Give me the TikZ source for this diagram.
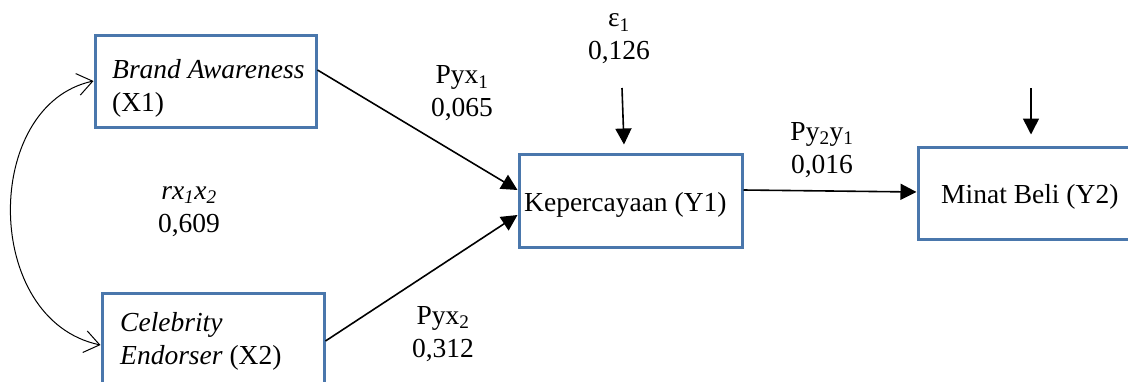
\documentclass[tikz,border=0pt]{standalone}
\usepackage{fontspec}
\setmainfont{Liberation Serif}
\usetikzlibrary{arrows.meta,calc}
\definecolor{boxblue}{HTML}{4A77AC}
\begin{document}
\begin{tikzpicture}[x=1pt,y=-1pt,
  box/.style={draw=boxblue,line width=3pt,inner sep=0pt},
  txt/.style={font=\fontsize{27.5}{33}\selectfont,inner sep=0pt},
  lab/.style={txt,align=center},
  conn/.style={line width=1.6pt,-{Triangle[length=16pt,width=16pt]}},
  corr/.style={line width=1pt,{Straight Barb[length=15pt,width=22pt]}-{Straight Barb[length=15pt,width=22pt]}}]
\clip (0,0) rectangle (1128,381);
% boxes
\node[box,minimum width=221pt,minimum height=92pt] (X1) at (205.5,81) {};
\node[box,minimum width=222pt,minimum height=130pt] (X2) at (213,358) {};
\node[box,minimum width=223pt,minimum height=93pt] (Y1) at (630.5,200.5) {};
\node[box,minimum width=232pt,minimum height=92pt] (Y2) at (1034,193) {};
% box texts
\node[txt,align=left,anchor=west] (tX1) at (112,88.5) {\textit{Brand Awareness}\\(X1)};
\node[txt,align=left,anchor=west] (tX2) at (120,341) {\textit{Celebrity}\\\textit{Endorser} (X2)};
\node[txt,anchor=west] (tY1) at (524,205) {Kepercayaan (Y1)};
\node[txt,anchor=west] (tY2) at (941,197) {Minat Beli (Y2)};
% labels
\node[lab] (l1) at (462,93.5) {Pyx\textsubscript{1}\\0,065};
\node[lab] (l2) at (443,334) {Pyx\textsubscript{2}\\0,312};
\node[lab] (l3) at (619,39) {ε\textsubscript{1}\\0,126};
\node[lab] (l4) at (822,150) {Py\textsubscript{2}y\textsubscript{1}\\0,016};
\node[lab] (l5) at (189,211.5) {\textit{rx\textsubscript{1}x\textsubscript{2}}\\0,609};
% connectors
\draw[conn] ($(X1.east)+(0,-11)$) -- ($(Y1.west)+(0,-10.5)$);
\draw[conn] ($(X2.east)+(0,-17)$) -- ($(Y1.west)+(0,14.5)$);
\draw[conn] ($(Y1.east)+(0,-10.5)$) -- ($(Y2.west)+(0,-1)$);
\coordinate (e1) at (622,88);
\coordinate (e2) at (1031,88);
\draw[conn] (e1) -- ($(Y1.north)+(-6.5,-8)$);
\draw[conn] (e2) -- ($(Y2.north)+(-3,-11)$);
\draw[corr] (X1.west) .. controls (-18,105) and (-18,320) .. ($(X2.west)+(0,-13)$);
\end{tikzpicture}
\end{document}
